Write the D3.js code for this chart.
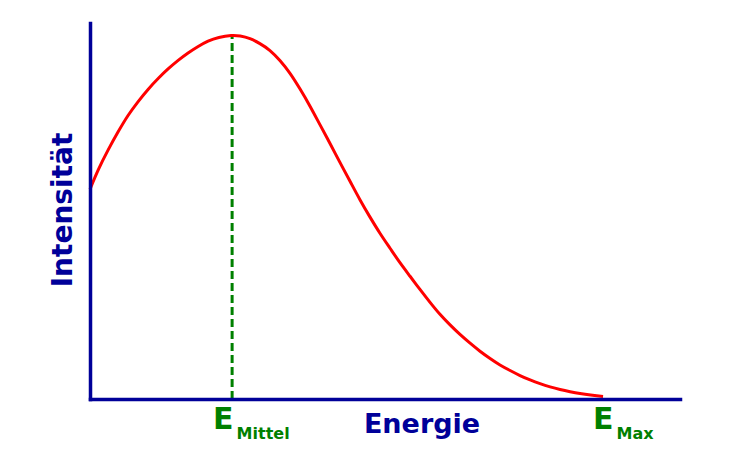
<!DOCTYPE html>
<html>
<head>
<meta charset="utf-8">
<script src="https://cdn.jsdelivr.net/npm/d3@7"></script>
<style>
  html, body { margin: 0; padding: 0; background: #fff; }
  svg { display: block; }
  text { font-family: "DejaVu Sans", sans-serif; font-weight: bold; }
</style>
</head>
<body>
<svg id="chart" width="750" height="450"></svg>
<script>
// Energy (fraction of E_max) and relative intensity
const energy = [0, 0.016, 0.035, 0.055, 0.074, 0.094, 0.113, 0.133, 0.152, 0.172, 0.191, 0.211, 0.230, 0.250, 0.277,
  0.292, 0.312, 0.331, 0.351, 0.370, 0.390, 0.409, 0.429, 0.448, 0.468, 0.487, 0.507, 0.526, 0.546, 0.565, 0.585,
  0.604, 0.624, 0.643, 0.663, 0.682, 0.702, 0.721, 0.741, 0.760, 0.780, 0.799, 0.819, 0.838, 0.858, 0.877, 0.897,
  0.916, 0.936, 0.955, 0.975, 1.0];
const intensity = [0.576, 0.631, 0.684, 0.735, 0.780, 0.818, 0.851, 0.881, 0.907, 0.931, 0.951, 0.969, 0.984, 0.994, 1.0,
  0.998, 0.991, 0.977, 0.959, 0.931, 0.896, 0.853, 0.805, 0.754, 0.702, 0.650, 0.598, 0.547, 0.499, 0.455, 0.414,
  0.374, 0.337, 0.301, 0.265, 0.232, 0.203, 0.177, 0.153, 0.131, 0.111, 0.093, 0.078, 0.064, 0.052, 0.042, 0.033,
  0.026, 0.020, 0.015, 0.011, 0.007];
const eMittel = 0.277;
const eMax = 1.0;
const xTitle = "Energie";
const yTitle = "Intensität";

const svg = d3.select("#chart");
const x = d3.scaleLinear().domain([0, 1.15]).range([90, 680]);
const y = d3.scaleLinear().domain([0, 1.033]).range([399, 23]);

const navy = "#000099";
const green = "#008000";

const data = energy.map((e, i) => ({ e, v: intensity[i] }));

// dashed line at E_Mittel
svg.append("line")
  .attr("x1", x(eMittel)).attr("x2", x(eMittel))
  .attr("y1", y(0)).attr("y2", y(1))
  .attr("stroke", green).attr("stroke-width", 3)
  .attr("stroke-dasharray", "8,4");

// curve
svg.append("path")
  .datum(data)
  .attr("fill", "none")
  .attr("stroke", "#ff0000")
  .attr("stroke-width", 3)
  .attr("d", d3.line().x(d => x(d.e)).y(d => y(d.v)).curve(d3.curveBasis));

// axes (domain lines only)
const xAxis = svg.append("g").attr("transform", `translate(0,${y(0)})`)
  .call(d3.axisBottom(x).tickValues([]).tickSizeOuter(0));
const yAxis = svg.append("g").attr("transform", `translate(${x(0)},0)`)
  .call(d3.axisLeft(y).tickValues([]).tickSizeOuter(0));
[xAxis, yAxis].forEach(g => g.select(".domain").attr("stroke", navy).attr("stroke-width", 3.5).attr("stroke-linecap", "square"));

// titles
svg.append("text")
  .attr("x", 422).attr("y", 433)
  .attr("text-anchor", "middle")
  .attr("fill", navy).attr("font-size", 27)
  .text(xTitle);

svg.append("text")
  .attr("transform", `translate(72,210) rotate(-90)`)
  .attr("text-anchor", "middle")
  .attr("fill", navy).attr("font-size", 28)
  .text(yTitle);

// E labels
function eLabel(val, sub, offset) {
  const t = svg.append("text")
    .attr("x", x(val) + offset).attr("y", 429)
    .attr("fill", green).attr("font-size", 30);
  t.append("tspan").text("E");
  t.append("tspan").attr("font-size", 16).attr("dx", 3).attr("dy", 10).text(sub);
}
eLabel(eMittel, "Mittel", -19);
eLabel(eMax, "Max", -10);
</script>
</body>
</html>
